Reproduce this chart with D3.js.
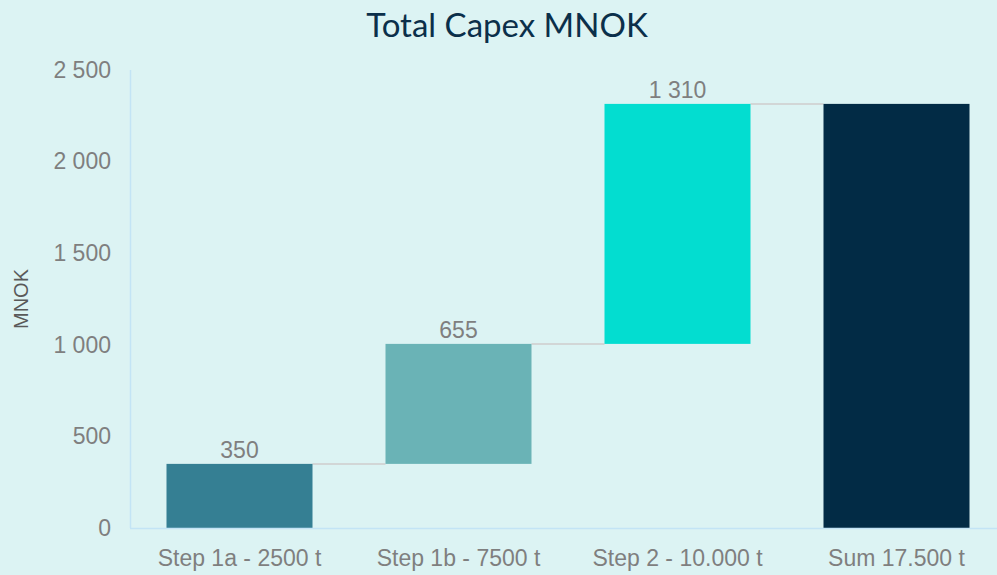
<!DOCTYPE html>
<html><head><meta charset="utf-8">
<script src="https://cdn.jsdelivr.net/npm/d3@7"></script>
<style>
html,body{margin:0;padding:0;background:#dcf3f3;overflow:hidden;}
svg{display:block;}
</style></head>
<body>
<svg id="chart" width="997" height="575"></svg>
<script>
const categories = ["Step 1a - 2500 t", "Step 1b - 7500 t", "Step 2 - 10.000 t", "Sum 17.500 t"];
const stepValues = [350, 655, 1310];
const yTicks = [0, 500, 1000, 1500, 2000, 2500];
const barColors = ["#357f93", "#6ab3b6", "#03ddd0", "#022b45"];

const W = 997, H = 575;
const svg = d3.select("#chart");
svg.append("rect").attr("width", W).attr("height", H).attr("fill", "#dcf3f3");

// build waterfall rows
let cum = 0;
const rows = stepValues.map((v, i) => { const r = {cat: categories[i], start: cum, end: cum + v, value: v, total: false}; cum += v; return r; });
rows.push({cat: categories[3], start: 0, end: cum, value: cum, total: true});

const x = d3.scaleBand().domain(categories).range([130, 1006]).paddingInner(1/3).paddingOuter(1/6);
const y = d3.scaleLinear().domain([0, 2500]).range([528, 70]);

const fmt = v => d3.format(",")(v).replace(/,/g, " ");
const FONT = "'Liberation Sans', Arial, sans-serif";

// title
svg.append("text").attr("x", 507).attr("y", 37).attr("text-anchor", "middle")
  .attr("font-family", "Lato, 'Open Sans', sans-serif").attr("font-size", 33)
  .attr("fill", "#0b2f4a").text("Total Capex MNOK");

// y axis line
svg.append("line").attr("x1", 130.5).attr("x2", 130.5).attr("y1", y(2500)).attr("y2", y(0))
  .attr("stroke", "#c3e4f5").attr("stroke-width", 1.5);

// y tick labels
const yAxis = d3.axisLeft(y).tickValues(yTicks).tickSize(0).tickPadding(19).tickFormat(fmt);
const gy = svg.append("g").attr("transform", "translate(130,0)").call(yAxis);
gy.select(".domain").remove();
gy.selectAll("text").attr("font-family", FONT).attr("font-size", 23).attr("fill", "#7f7f7f");

// y label
svg.append("text").attr("transform", "translate(28,299) rotate(-90)").attr("text-anchor", "middle")
  .attr("font-family", FONT).attr("font-size", 20).attr("fill", "#595959").text("MNOK");

// connectors
const conn = rows.slice(0, -1).map((r, i) => ({x1: x(r.cat) + x.bandwidth(), x2: x(rows[i+1].cat), yv: r.end}));
svg.append("g").selectAll("line").data(conn).join("line")
  .attr("x1", d => d.x1).attr("x2", d => d.x2).attr("y1", d => y(d.yv)).attr("y2", d => y(d.yv))
  .attr("stroke", "#d2d6d6").attr("stroke-width", 2);

// bars
svg.append("g").selectAll("rect").data(rows).join("rect")
  .attr("x", d => x(d.cat)).attr("width", x.bandwidth())
  .attr("y", d => y(d.end)).attr("height", d => y(d.start) - y(d.end))
  .attr("fill", (d, i) => barColors[i]);

// x axis line
svg.append("line").attr("x1", 130).attr("x2", W).attr("y1", 528.5).attr("y2", 528.5)
  .attr("stroke", "#c3e4f5").attr("stroke-width", 1.5);

// x labels
const xAxis = d3.axisBottom(x).tickSize(0).tickPadding(22);
const gx = svg.append("g").attr("transform", "translate(0,528)").call(xAxis);
gx.select(".domain").remove();
gx.selectAll("text").attr("font-family", FONT).attr("font-size", 23).attr("fill", "#7f7f7f");

// value labels
svg.append("g").selectAll("text").data(rows.filter(r => !r.total)).join("text")
  .attr("x", d => x(d.cat) + x.bandwidth()/2).attr("y", d => y(d.end) - 6)
  .attr("text-anchor", "middle").attr("font-family", FONT)
  .attr("font-size", 23).attr("fill", "#7f7f7f").text(d => fmt(d.value));
</script>
</body></html>
